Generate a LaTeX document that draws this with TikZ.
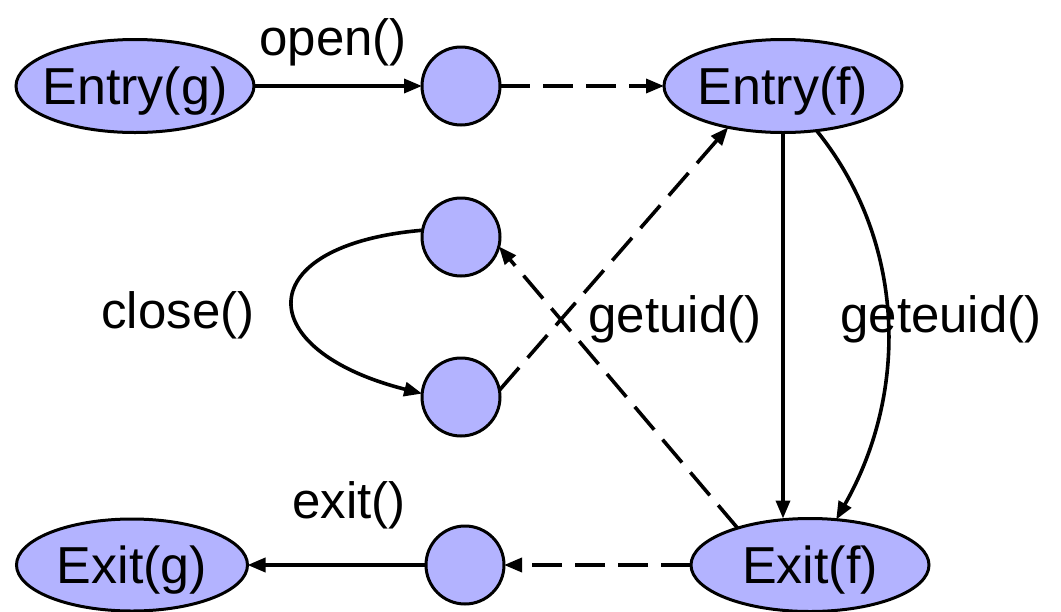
\documentclass[tikz,border=0pt]{standalone}
\usepackage{fontspec}
\setmainfont{Liberation Sans}
\usetikzlibrary{arrows.meta,shapes.geometric}
\definecolor{statefill}{RGB}{179,179,255}
\begin{document}
\begin{tikzpicture}[x=1pt,y=-1pt,
  every node/.style={inner sep=0pt, outer sep=0pt},
  state/.style={ellipse, draw=black, line width=3pt, fill=statefill,
                minimum width=238pt, minimum height=93pt},
  point/.style={circle, draw=black, line width=3pt, fill=statefill,
                minimum size=78pt},
  nodetext/.style={font=\fontsize{52}{60}\selectfont, text height=37pt, text depth=0pt},
  calllabel/.style={font=\fontsize{51}{60}\selectfont, anchor=base},
  flow/.style={line width=3.6pt, -{Triangle[length=18pt,width=14pt]}},
  jump/.style={flow, dash pattern=on 30pt off 13pt}]
\useasboundingbox (0,0) rectangle (1061,611);

% states and intermediate points
\node[state, label={[nodetext]center:Entry(g)}] (eg) at (135,86) {};
\node[point] (c1) at (461,86) {};
\node[state, label={[nodetext]center:Entry(f)}] (ef) at (783,86) {};
\node[point] (c2) at (461,237) {};
\node[point] (c3) at (461,397) {};
\node[state, minimum width=231pt, minimum height=92pt,
      label={[nodetext]center:Exit(g)}] (xg) at (132,565) {};
\node[point] (c4) at (465,565) {};
\node[state, label={[nodetext]center:Exit(f)}] (xf) at (810,565) {};

% transitions
\draw[flow] (eg) -- (c1);
\draw[jump] (c1) -- (ef);
\draw[flow] (ef.south) -- (ef.south |- xf.north);
\draw[flow] (ef.-53) .. controls (905,240) and (910,390) .. (xf.60);
\draw[flow] (c2.170) .. controls (250,245) and (250,350) .. (c3.175);
\draw[jump] (c3.10) -- (ef.217);
\draw[jump] (xf.153) -- (c2.-14);
\draw[jump] (xf) -- (c4);
\draw[flow] (c4) -- (xg);

% call labels
\node[calllabel] (lopen) at (333,55) {open()};
\node[calllabel] (lclose) at (178,328) {close()};
\node[calllabel] (lget) at (675,332) {getuid()};
\node[calllabel] (lgete) at (941,332) {geteuid()};
\node[calllabel] (lexit) at (349,518) {exit()};
\end{tikzpicture}
\end{document}
